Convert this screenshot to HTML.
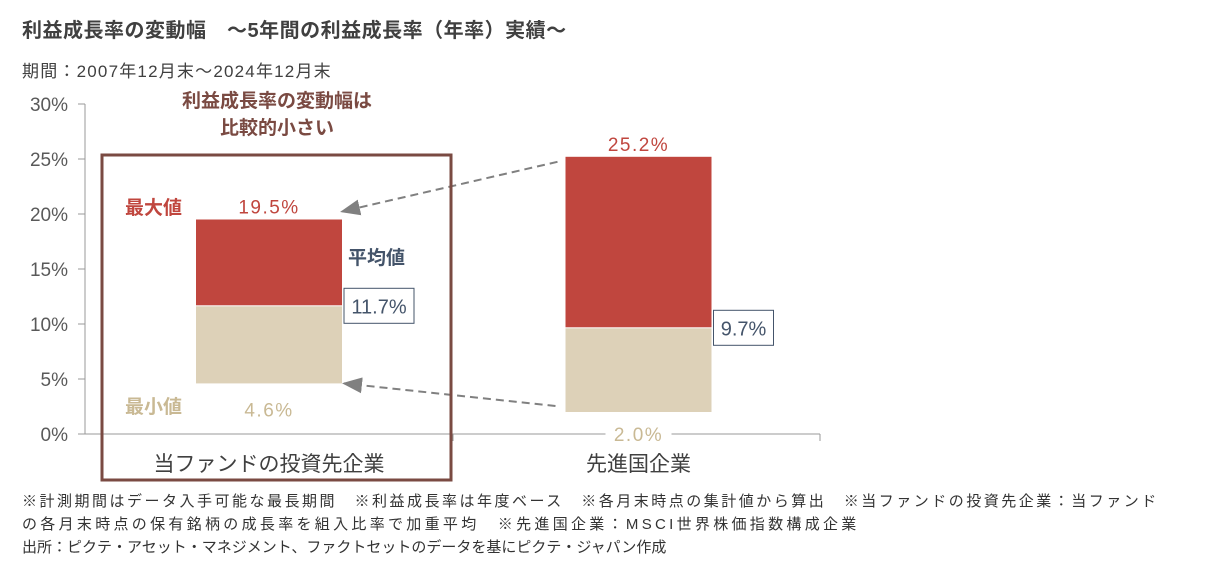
<!DOCTYPE html>
<html><head><meta charset="utf-8"><style>
body{margin:0;background:#fff;width:1221px;height:568px;overflow:hidden;font-family:"Liberation Sans","Noto Sans CJK JP",sans-serif}
.t{position:absolute;white-space:nowrap}
.fn{font-size:15px;line-height:23px;color:#333}
</style></head><body>
<div class="t" style="left:22px;top:14px;font-size:20px;font-weight:bold;color:#404040;letter-spacing:0.5px">利益成長率の変動幅　～5年間の利益成長率（年率）実績～</div>
<div class="t" style="left:22px;top:57px;font-size:17px;color:#404040;letter-spacing:1.2px">期間：2007年12月末～2024年12月末</div>
<svg id="chart" width="1221" height="568" style="position:absolute;left:0;top:0;font-family:'Liberation Sans','Noto Sans CJK JP',sans-serif">
<defs><marker id="ah" markerWidth="10" markerHeight="10" refX="9" refY="5" orient="auto"><path d="M0,1 L10,5 L0,9 Z" fill="#808080"/></marker></defs>
</svg>
<div class="t fn" style="left:22px;top:490px;letter-spacing:2.5px">※計測期間はデータ入手可能な最長期間　※利益成長率は年度ベース　※各月末時点の集計値から算出　※当ファンドの投資先企業：当ファンド</div>
<div class="t fn" style="left:22px;top:513px;letter-spacing:3.3px">の各月末時点の保有銘柄の成長率を組入比率で加重平均　※先進国企業：MSCI世界株価指数構成企業</div>
<div class="t fn" style="left:22px;top:536px;letter-spacing:0px">出所：ピクテ・アセット・マネジメント、ファクトセットのデータを基にピクテ・ジャパン作成</div>
<script>
const categories=["当ファンドの投資先企業","先進国企業"];
const maxVals=[19.5,25.2];
const avgVals=[11.7,9.7];
const minVals=[4.6,2.0];
const yTicks=[0,5,10,15,20,25,30];
const svg=document.getElementById('chart');
const NS='http://www.w3.org/2000/svg';
const y=v=>434-v*11;
const xc=[269,638.5], bw=146;
function mk(t,a,txt){const e=document.createElementNS(NS,t);for(const k in a)e.setAttribute(k,a[k]);if(txt!==undefined)e.textContent=txt;svg.appendChild(e);return e;}
let ax=mk('line',{x1:85,y1:104,x2:85,y2:434,stroke:'#999'});


yTicks.forEach(v=>{
 let l=mk('line',{x1:78,x2:85,y1:y(v),y2:y(v),stroke:'#999'});
 
 
 let t=mk('text',{x:68,y:y(v)+7,'text-anchor':'end','font-size':19,fill:'#595959'},v+'%');
 
 
});
let xa=mk('line',{x1:85,y1:434,x2:820,y2:434,stroke:'#999'});


[453,820].forEach(x=>{let l=mk('line',{x1:x,x2:x,y1:434,y2:441,stroke:'#999'});});
categories.forEach((c,i)=>{
 const x0=xc[i]-bw/2;
 let r1=mk('rect',{x:x0,y:y(maxVals[i]),width:bw,height:y(avgVals[i])-y(maxVals[i]),fill:'#c0463e'});
 
 
 let r2=mk('rect',{x:x0,y:y(avgVals[i])+1,width:bw,height:y(minVals[i])-y(avgVals[i])-1,fill:'#ddd1b8'});
 
 
 let tm=mk('text',{x:xc[i],y:y(maxVals[i])-6,'text-anchor':'middle','font-size':19,'letter-spacing':1.5,fill:'#c0463e'},maxVals[i].toFixed(1)+'%');
 
 
 const mny=i==0?y(minVals[i])+33:y(minVals[i])+29;
 if(i==1){mk('rect',{x:xc[i]-33,y:mny-20,width:66,height:26,fill:'#fff'});}
 let tn=mk('text',{x:xc[i],y:mny,'text-anchor':'middle','font-size':19,'letter-spacing':1.5,fill:'#c9b994'},minVals[i].toFixed(1)+'%');
 
 
 const bx=x0+bw+2, w=i==0?70:60;
 let ab=mk('rect',{x:bx,y:y(avgVals[i])-17,width:w,height:35,fill:'#fff',stroke:'#44546a'});
 
 
 let ta=mk('text',{x:bx+w/2,y:y(avgVals[i])+8,'text-anchor':'middle','font-size':20,fill:'#44546a'},avgVals[i].toFixed(1)+'%');
 
 
 let tc=mk('text',{x:xc[i],y:471,'text-anchor':'middle','font-size':21,fill:'#404040'},c);
 
 
});
let a1=mk('line',{x1:xc[1]-bw/2-8,y1:y(maxVals[1])+5,x2:xc[0]+bw/2,y2:y(maxVals[0])-8,stroke:'#808080','stroke-width':2,'stroke-dasharray':'8,5','marker-end':'url(#ah)'});


let a2=mk('line',{x1:xc[1]-bw/2-10,y1:y(minVals[1])-6,x2:xc[0]+bw/2+2,y2:y(minVals[0]),stroke:'#808080','stroke-width':2,'stroke-dasharray':'8,5','marker-end':'url(#ah)'});


let hb=mk('rect',{x:102,y:155,width:349,height:325,fill:'none',stroke:'#7a4a42','stroke-width':3});


[['最大値',125,214,'#c0463e'],['最小値',125,413,'#c9b994'],['平均値',348,264,'#44546a']].forEach(a=>{
 let t=mk('text',{x:a[1],y:a[2],'font-size':19,'font-weight':'bold',fill:a[3]},a[0]);
 
 
});
let n1=mk('text',{x:277,y:107,'text-anchor':'middle','font-size':19,'font-weight':'bold',fill:'#7a4a42'},'利益成長率の変動幅は');


let n2=mk('text',{x:277,y:134,'text-anchor':'middle','font-size':19,'font-weight':'bold',fill:'#7a4a42'},'比較的小さい');


</script>
</body></html>
